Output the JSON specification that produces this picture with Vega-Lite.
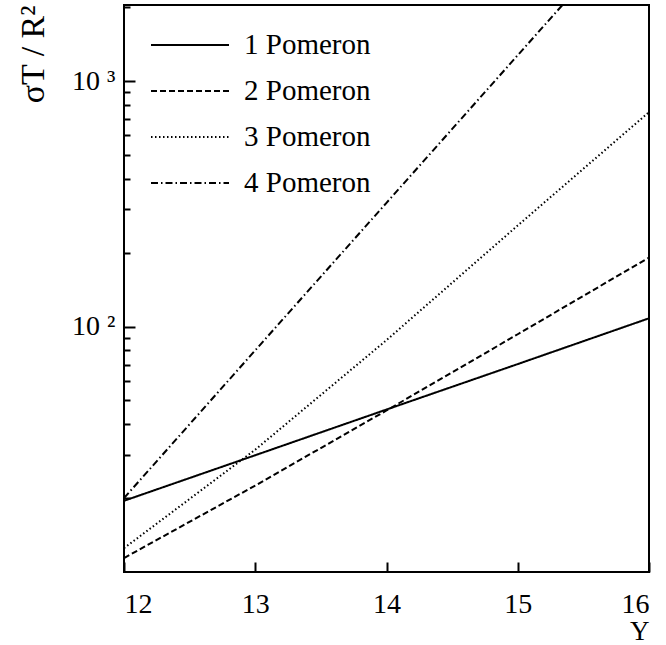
{
  "$schema": "https://vega.github.io/schema/vega-lite/v6.json",
  "autosize": "none",
  "width": 525,
  "height": 567,
  "padding": {"left": 124, "top": 5, "right": 17, "bottom": 73},
  "background": "white",
  "config": {
    "view": {"stroke": "black", "strokeWidth": 2},
    "axis": {
      "domain": false,
      "grid": false,
      "labelFont": "Liberation Serif",
      "labelFontSize": 28,
      "labelColor": "black",
      "titleFont": "Liberation Serif",
      "titleFontSize": 34,
      "titleFontWeight": "normal",
      "titleColor": "black",
      "tickColor": "black",
      "tickWidth": 2
    },
    "legend": {
      "labelFont": "Liberation Serif",
      "labelFontSize": 29,
      "labelColor": "black"
    }
  },
  "data": {
    "values": [
      {"Y": 12, "sigma": 19.5, "series": "1 Pomeron"},
      {"Y": 13, "sigma": 29.9, "series": "1 Pomeron"},
      {"Y": 14, "sigma": 45.9, "series": "1 Pomeron"},
      {"Y": 15, "sigma": 70.3, "series": "1 Pomeron"},
      {"Y": 16, "sigma": 108, "series": "1 Pomeron"},
      {"Y": 12, "sigma": 11.4, "series": "2 Pomeron"},
      {"Y": 13, "sigma": 22.5, "series": "2 Pomeron"},
      {"Y": 14, "sigma": 45.5, "series": "2 Pomeron"},
      {"Y": 15, "sigma": 93, "series": "2 Pomeron"},
      {"Y": 16, "sigma": 191, "series": "2 Pomeron"},
      {"Y": 12, "sigma": 12.5, "series": "3 Pomeron"},
      {"Y": 13, "sigma": 31.5, "series": "3 Pomeron"},
      {"Y": 14, "sigma": 88, "series": "3 Pomeron"},
      {"Y": 15, "sigma": 258, "series": "3 Pomeron"},
      {"Y": 16, "sigma": 747, "series": "3 Pomeron"},
      {"Y": 12, "sigma": 20, "series": "4 Pomeron"},
      {"Y": 13, "sigma": 80, "series": "4 Pomeron"},
      {"Y": 14, "sigma": 319, "series": "4 Pomeron"},
      {"Y": 15, "sigma": 1274, "series": "4 Pomeron"},
      {"Y": 16, "sigma": 5080, "series": "4 Pomeron"}
    ]
  },
  "mark": {"type": "line", "clip": true, "color": "black", "strokeWidth": 2},
  "encoding": {
    "x": {
      "field": "Y",
      "type": "quantitative",
      "scale": {"domain": [12, 16], "nice": false, "zero": false},
      "axis": {
        "values": [12, 13, 14, 15, 16],
        "tickSize": -10,
        "labelPadding": 28,
        "labelFlush": true,
        "title": "Y",
        "titleFontSize": 27,
        "titleAnchor": "end",
        "titleAlign": "right",
        "titlePadding": 0
      }
    },
    "y": {
      "field": "sigma",
      "type": "quantitative",
      "scale": {"type": "log", "domain": [10, 2040], "nice": false},
      "axis": {
        "values": [20, 30, 40, 50, 60, 70, 80, 90, 100, 200, 300, 400, 500, 600, 700, 800, 900, 1000, 2000],
        "labelExpr": "datum.value == 100 ? '10  ²' : datum.value == 1000 ? '10  ³' : ''",
        "labelOverlap": false,
        "tickSize": {"condition": {"test": "datum.value == 100 || datum.value == 1000", "value": -11}, "value": -6},
        "labelPadding": 20,
        "title": "σT / R²",
        "titleAnchor": "end",
        "titlePadding": 14
      }
    },
    "strokeDash": {
      "field": "series",
      "type": "nominal",
      "scale": {
        "domain": ["1 Pomeron", "2 Pomeron", "3 Pomeron", "4 Pomeron"],
        "range": [[1, 0], [6, 3], [1.5, 2.5], [7, 3, 1.5, 3]]
      },
      "legend": {
        "orient": "none",
        "legendX": 26,
        "legendY": 25,
        "title": null,
        "symbolType": "stroke",
        "symbolSize": 6084,
        "symbolStrokeWidth": 2,
        "symbolStrokeColor": "black",
        "clipHeight": 30,
        "labelOffset": 14,
        "rowPadding": 16,
        "padding": 0
      }
    }
  }
}
